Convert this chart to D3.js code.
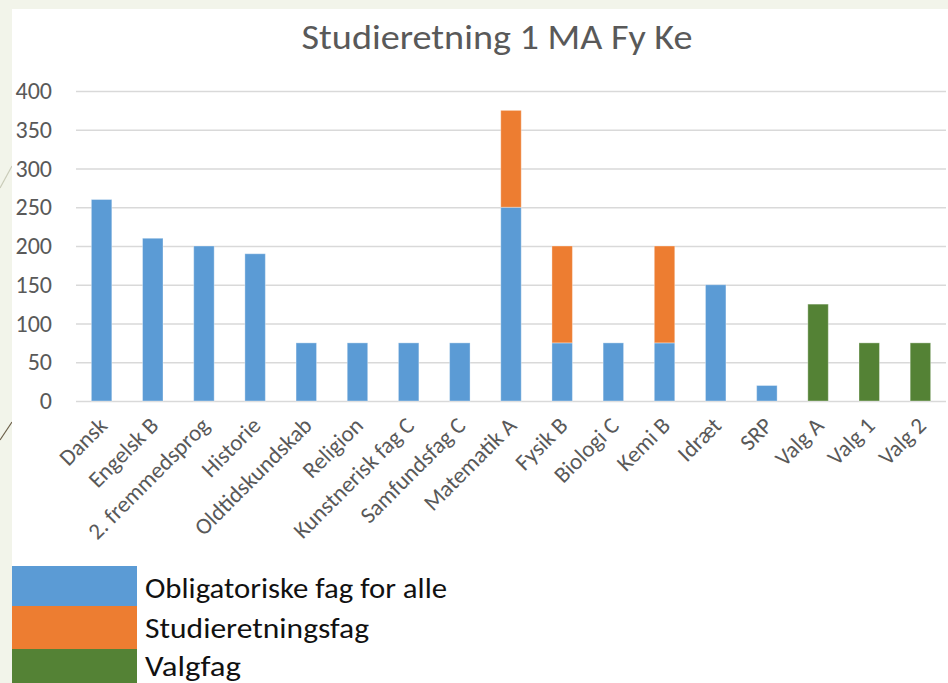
<!DOCTYPE html>
<meta charset="utf-8">
<body style="margin:0;background:#f2f4ea;">
<script src="https://cdn.jsdelivr.net/npm/d3@7"></script>
<script>
	// data
	var categories = ["Dansk", "Engelsk B", "2. fremmedsprog", "Historie", "Oldtidskundskab", "Religion",
		"Kunstnerisk fag C", "Samfundsfag C", "Matematik A", "Fysik B", "Biologi C", "Kemi B",
		"Idræt", "SRP", "Valg A", "Valg 1", "Valg 2"];
	var obligatoriske = [260, 210, 200, 190, 75, 75, 75, 75, 250, 75, 75, 75, 150, 20, 0, 0, 0];
	var studieretning = [0, 0, 0, 0, 0, 0, 0, 0, 125, 125, 0, 125, 0, 0, 0, 0, 0];
	var valgfag = [0, 0, 0, 0, 0, 0, 0, 0, 0, 0, 0, 0, 0, 0, 125, 75, 75];
	var yTicks = [0, 50, 100, 150, 200, 250, 300, 350, 400];
	var seriesNames = ["Obligatoriske fag for alle", "Studieretningsfag", "Valgfag"];
	var colors = ["#5b9bd5", "#ed7d31", "#548235"];
	var title = "Studieretning 1 MA Fy Ke";

	var W = 948, H = 683;
	var svg = d3.select("body").append("svg")
		.attr("width", W)
		.attr("height", H)
		.style("display", "block")
		.style("font-family", "Carlito, 'Open Sans', sans-serif");

	// slide background + white chart panel
	svg.append("rect").attr("width", W).attr("height", H).attr("fill", "#f2f4ea");
	svg.append("line").attr("x1", 0).attr("y1", 188).attr("x2", 12).attr("y2", 166)
		.attr("stroke", "#c9cbb8").attr("stroke-width", 1.2);
	svg.append("line").attr("x1", 0).attr("y1", 440).attr("x2", 12).attr("y2", 422)
		.attr("stroke", "#6b5e48").attr("stroke-width", 1.2);
	svg.append("rect").attr("x", 12).attr("y", 9).attr("width", W - 12).attr("height", H - 9).attr("fill", "#ffffff");

	// scales
	var x = d3.scaleBand()
		.domain(categories)
		.range([76, 946])
		.paddingInner(0.6)
		.paddingOuter(0.3);
	var y = d3.scaleLinear()
		.domain([0, 400])
		.range([401, 91]);

	// gridlines + y labels
	var yAxis = svg.append("g")
		.attr("transform", "translate(76,0)")
		.call(d3.axisLeft(y).tickValues(yTicks).tickSize(-870).tickPadding(24));
	yAxis.select(".domain").remove();
	yAxis.selectAll("line").attr("stroke", "#d9d9d9").attr("stroke-width", 1.4);
	yAxis.selectAll("text")
		.attr("fill", "#595959")
		.style("font-size", "24px")
		.style("font-family", "Carlito, 'Open Sans', sans-serif");

	// stacked bars
	var table = categories.map(function(c, i) {
		return { cat: c, o: obligatoriske[i], s: studieretning[i], v: valgfag[i] };
	});
	var stacked = d3.stack().keys(["o", "s", "v"])(table);

	svg.append("g").selectAll("g")
		.data(stacked)
		.enter().append("g")
		.attr("fill", function(d, i) { return colors[i]; })
		.selectAll("rect")
		.data(function(d) { return d; })
		.enter().append("rect")
		.filter(function(d) { return d[1] > d[0]; })
		.attr("x", function(d) { return x(d.data.cat); })
		.attr("y", function(d) { return y(d[1]); })
		.attr("width", x.bandwidth())
		.attr("height", function(d) { return y(d[0]) - y(d[1]); })
		.attr("stroke", "#ffffff")
		.attr("stroke-opacity", 0.35)
		.attr("stroke-width", 1);

	// x labels
	var xAxis = svg.append("g")
		.attr("transform", "translate(0,401)")
		.call(d3.axisBottom(x).tickSize(0));
	xAxis.select(".domain").remove();
	xAxis.selectAll("text")
		.attr("fill", "#595959")
		.style("font-size", "23px")
		.style("font-family", "Carlito, 'Open Sans', sans-serif")
		.attr("text-anchor", "end")
		.attr("dy", null)
		.attr("y", 0)
		.attr("transform", "translate(7,26) rotate(-45)");

	// title
	svg.append("text")
		.attr("x", 497)
		.attr("y", 49)
		.attr("text-anchor", "middle")
		.attr("fill", "#595959")
		.style("font-size", "35px")
		.style("font-weight", 300)
		.attr("textLength", 391)
		.attr("lengthAdjust", "spacingAndGlyphs")
		.text(title);

	// legend
	var legendTops = [566, 606, 649];
	var legendBottoms = [606, 649, 683];
	var legendWidths = [302, 224, 96];
	var lg = svg.append("g");
	seriesNames.forEach(function(name, i) {
		lg.append("rect")
			.attr("x", 12)
			.attr("y", legendTops[i])
			.attr("width", 125)
			.attr("height", legendBottoms[i] - legendTops[i])
			.attr("fill", colors[i]);
		lg.append("text")
			.attr("x", 145)
			.attr("y", [598, 638, 676][i])
			.attr("fill", "#111")
			.style("font-size", "28px")
			.attr("textLength", legendWidths[i])
			.attr("lengthAdjust", "spacingAndGlyphs")
			.text(name);
	});
</script>
</body>
